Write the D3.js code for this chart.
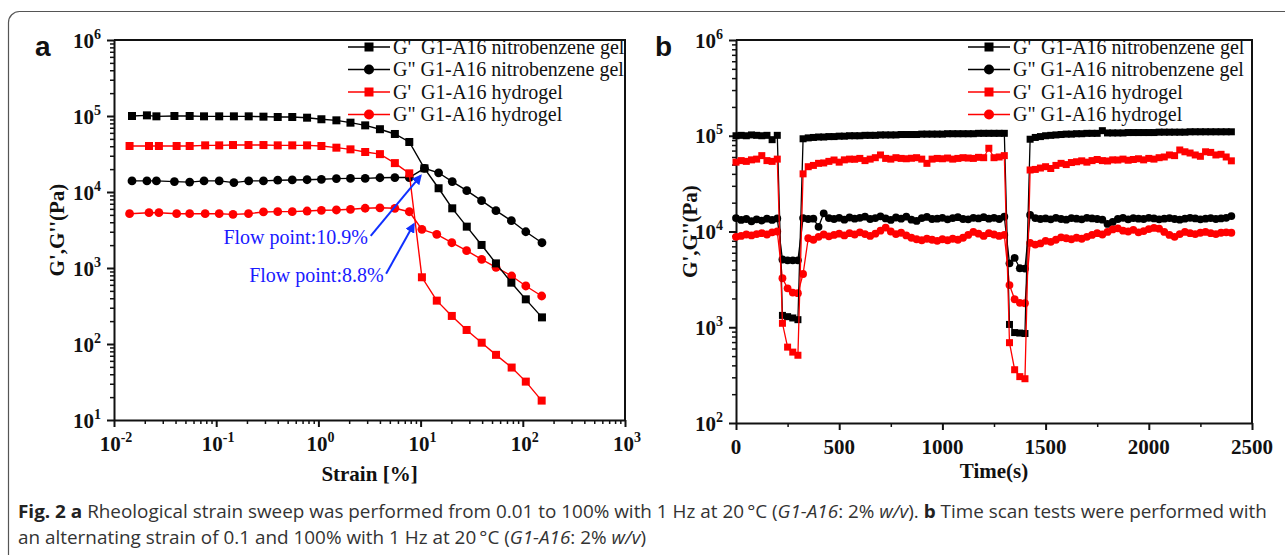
<!DOCTYPE html>
<html><head><meta charset="utf-8">
<script src="https://cdn.jsdelivr.net/npm/d3@7/dist/d3.min.js"></script>
<style>
body{margin:0;background:#fff;}
svg{display:block;}
</style></head><body>
<svg id="c" width="1285" height="555"></svg>
<script>
// ---------- Panel a: strain sweep ----------
const strainNitro = [0.015, 0.021, 0.026, 0.039, 0.055, 0.076, 0.107, 0.149, 0.208, 0.29, 0.40, 0.555, 0.775, 1.07, 1.5, 2.06, 2.87, 4.0, 5.6, 7.75, 10.9, 15.0, 20.4, 28.3, 39.5, 54.6, 77.3, 107, 154];
const gpNitroA  = [100000, 102000, 99000, 100000, 100000, 99000, 99000, 99000, 99000, 98000, 97000, 97000, 95000, 90600, 87700, 81700, 75300, 67000, 58000, 45500, 20500, 11200, 6100, 3500, 2010, 1150, 641, 387, 224];
const gppNitroA = [14000, 14000, 14000, 13700, 13500, 14000, 14000, 13300, 14000, 14000, 14300, 14400, 14500, 14700, 15000, 15100, 15100, 15400, 15500, 15500, 20500, 17900, 13700, 10400, 7690, 5680, 4190, 3000, 2150];
const strainHydro = [0.0142, 0.022, 0.0275, 0.041, 0.055, 0.078, 0.107, 0.146, 0.207, 0.29, 0.40, 0.555, 0.775, 1.07, 1.5, 2.06, 2.87, 4.0, 5.6, 7.75, 10.3, 14.4, 20.2, 28.2, 39.6, 54.7, 77.8, 107, 153];
const gpHydroA  = [40300, 40300, 40300, 40300, 40300, 41100, 41100, 41500, 41500, 41500, 41100, 41100, 41100, 40300, 38300, 36400, 33600, 31500, 24000, 17600, 755, 372, 234, 153, 104, 72, 49, 32, 18];
const gppHydroA = [5180, 5340, 5340, 5180, 5180, 5180, 5180, 5080, 5180, 5460, 5510, 5510, 5620, 5740, 5800, 5920, 6110, 6200, 6100, 5500, 3230, 2770, 2150, 1690, 1300, 1020, 785, 580, 428];

// ---------- Panel b: time scan ----------
const timeS = [0,25,50,75,100,125,150,175,200,225,250,275,300,325,350,375,400,425,450,475,500,525,550,575,600,625,650,675,700,725,750,775,800,825,850,875,900,925,950,975,1000,1025,1050,1075,1100,1125,1150,1175,1200,1225,1250,1275,1300,1325,1350,1375,1400,1425,1450,1475,1500,1525,1550,1575,1600,1625,1650,1675,1700,1725,1750,1775,1800,1825,1850,1875,1900,1925,1950,1975,2000,2025,2050,2075,2100,2125,2150,2175,2200,2225,2250,2275,2300,2325,2350,2375,2400];
const gpNitroB = [100000,101000,100000,102000,101000,100000,101000,91000,101000,
  1330,1290,1250,1200,
  93000,95000,96000,97000,97000,98000,98000,99000,99000,100000,100000,100000,101000,101000,101000,102000,102000,102000,102000,103000,103000,103000,103000,104000,104000,104000,104000,104000,105000,105000,105000,105000,105000,105000,106000,106000,106000,106000,106000,106000,
  1070,880,870,860,
  92000,96000,98000,100000,101000,102000,103000,104000,104000,105000,105000,106000,106000,106000,113000,107000,107000,107000,107000,108000,108000,108000,108000,108000,108000,109000,109000,109000,109000,109000,109000,110000,110000,110000,110000,110000,110000,110000,110000,110000];
const gppNitroB = [13800,13200,13500,12800,13400,13000,13600,13200,13700,
  5100,5000,5000,5000,
  13800,13500,13600,11200,15500,13800,13500,13900,13300,14000,13600,13900,14300,13500,13800,14400,13700,13200,14000,13600,14300,13300,12900,13800,14200,13500,13600,13900,13400,13800,14100,13500,13400,13900,13700,14100,13600,13900,13500,14300,
  4650,5300,4130,4100,
  14900,13800,13500,13700,13400,13900,13500,13300,13800,13600,13400,13900,13700,13500,13300,12000,12600,13500,13900,13400,13800,13600,13500,13900,13700,13400,13600,13800,13500,13300,13600,13900,13700,13400,13600,13800,13500,13700,13900,14500];
const gpHydroB = [53000,55000,54000,56000,57000,62000,55000,54000,57000,
  1100,620,550,510,
  40000,47500,49000,51500,52000,54000,55800,53000,56000,57000,56800,58000,55000,57000,59000,63000,58000,57000,59000,58000,57500,58200,59000,57000,51500,57000,58000,57500,58500,57000,58000,59000,58500,58000,59500,59000,74000,59000,60000,62000,
  690,360,305,290,
  43900,44500,46000,47500,45500,49000,51500,50000,52500,53500,54700,53000,55000,56500,55000,54500,56000,55800,57000,55500,56500,57500,56000,58000,57000,59000,60000,63000,62000,71000,68000,66000,63000,61000,68000,67000,63000,64000,60000,54700];
const gppHydroB = [8800,9000,9300,9100,9400,9600,9300,9800,10000,
  3250,2550,2300,2270,
  3600,8500,8200,8800,9300,8900,9200,9500,9100,9600,9300,9800,9400,9000,9500,10200,11000,10000,9400,9700,9100,8600,8300,8100,8400,8200,8000,8300,8100,8400,8200,8600,9200,9900,9500,9000,9600,9300,9000,9200,
  2760,1960,1800,1780,
  7600,7300,7500,8000,7800,8200,8700,8500,8300,8600,8400,8800,9200,9600,9300,9900,10500,10800,10200,10000,10400,9800,10100,10600,10900,10700,9900,9200,8800,9400,9900,9600,9400,9700,9900,9600,9400,9700,9800,9700];

// ---------- labels / ticks ----------
const legendLabels = ["G'\u00a0\u00a0G1-A16 nitrobenzene gel", "G\" G1-A16 nitrobenzene gel", "G'\u00a0\u00a0G1-A16 hydrogel", "G\" G1-A16 hydrogel"];
const legendColors = ["#000", "#000", "#f00", "#f00"];
const legendShapes = ["square", "circle", "square", "circle"];
const yTicksA = [1e1, 1e2, 1e3, 1e4, 1e5, 1e6];
const xTicksA = [1e-2, 1e-1, 1e0, 1e1, 1e2, 1e3];
const yTicksB = [1e2, 1e3, 1e4, 1e5, 1e6];
const xTicksB = [0, 500, 1000, 1500, 2000, 2500];
const xMinorB = [250, 750, 1250, 1750, 2250];
const flowLabels = ["Flow point:10.9%", "Flow point:8.8%"];
// annotation anchors in data space [strain, modulus]
const arrowFrom = [[3.25, 2640], [4.6, 841]];
const arrowTo = [[10.0, 16300], [8.57, 3760]];
const flowTextAt = [[3.05, 2070], [4.35, 645]];

const svg = d3.select("#c");
const SERIF = "'Liberation Serif','Times New Roman',serif";
const SANS = "'Liberation Sans',Arial,sans-serif";

// outer frame
svg.append("rect").attr("x", 8.5).attr("y", 11.5).attr("width", 1300).attr("height", 600)
  .attr("rx", 11).attr("fill", "none").attr("stroke", "#555").attr("stroke-width", 1.2);

const defs = svg.append("defs");
defs.append("marker").attr("id", "ah").attr("viewBox", "0 0 10 10").attr("refX", 8).attr("refY", 5)
  .attr("markerWidth", 5).attr("markerHeight", 5).attr("orient", "auto")
  .append("path").attr("d", "M0,0 L10,5 L0,10 z").attr("fill", "#1030ff");

function minorLog(lo, hi) {
  const out = [];
  for (let e = Math.round(Math.log10(lo)); e < Math.round(Math.log10(hi)); e++)
    for (let k = 2; k <= 9; k++) out.push(k * Math.pow(10, e));
  return out;
}

function powLabel(sel, v) {
  const e = Math.round(Math.log10(v));
  sel.append("tspan").text("10");
  sel.append("tspan").attr("font-size", 14).attr("dy", -9).text(String(e));
}

function drawAxes(g, x, y, opts) {
  const [x0, x1] = x.range();
  const [y0, y1] = y.range();
  g.append("g").attr("transform", `translate(0,${y0})`)
    .call(d3.axisBottom(x).tickValues(opts.xMinor).tickSize(4).tickFormat(() => ""))
    .call(a => { a.select(".domain").remove(); a.selectAll("line").attr("stroke-width", 1.5).attr("stroke", "#111"); });
  g.append("g").attr("transform", `translate(${x0},0)`)
    .call(d3.axisLeft(y).tickValues(opts.yMinor).tickSize(4).tickFormat(() => ""))
    .call(a => { a.select(".domain").remove(); a.selectAll("line").attr("stroke-width", 1.5).attr("stroke", "#111"); });
  g.append("g").attr("transform", `translate(0,${y0})`)
    .call(d3.axisBottom(x).tickValues(opts.xMajor).tickSize(7).tickSizeOuter(0).tickFormat(() => ""))
    .call(a => { a.select(".domain").attr("stroke-width", 2).attr("stroke", "#111"); a.selectAll("line").attr("stroke-width", 2).attr("stroke", "#111"); });
  g.append("g").attr("transform", `translate(${x0},0)`)
    .call(d3.axisLeft(y).tickValues(opts.yMajor).tickSize(7).tickSizeOuter(0).tickFormat(() => ""))
    .call(a => { a.select(".domain").attr("stroke-width", 2).attr("stroke", "#111"); a.selectAll("line").attr("stroke-width", 2).attr("stroke", "#111"); });
  g.append("line").attr("x1", x0).attr("x2", x1).attr("y1", y1).attr("y2", y1).attr("stroke", "#111").attr("stroke-width", 2);
  g.append("line").attr("x1", x1).attr("x2", x1).attr("y1", y1 - 1).attr("y2", y0 + 1).attr("stroke", "#111").attr("stroke-width", 2);
  opts.yMajor.forEach(v => {
    const t = g.append("text").attr("x", x0 - 13).attr("y", y(v) + 7.5)
      .attr("text-anchor", "end").attr("font-family", SERIF).attr("font-weight", "bold").attr("font-size", 21).attr("fill", "#111");
    powLabel(t, v);
  });
  opts.xMajor.forEach(v => {
    const t = g.append("text").attr("x", x(v) + (opts.xLog ? 2 : 0)).attr("y", y0 + 31)
      .attr("text-anchor", "middle").attr("font-family", SERIF).attr("font-weight", "bold").attr("font-size", 21).attr("fill", "#111");
    if (opts.xLog) powLabel(t, v); else t.text(v);
  });
  g.append("text").attr("x", (x0 + x1) / 2).attr("y", opts.xTitleY)
    .attr("text-anchor", "middle").attr("font-family", SERIF).attr("font-weight", "bold").attr("font-size", 21).attr("fill", "#111")
    .text(opts.xTitle);
  g.append("text").attr("transform", `translate(${opts.yTitleX},${(y0 + y1) / 2}) rotate(-90)`)
    .attr("text-anchor", "middle").attr("font-family", SERIF).attr("font-weight", "bold").attr("font-size", 21).attr("fill", "#111")
    .text("G',G''(Pa)");
}

function drawSeries(g, x, y, xs, ys, color, shape, sz, lw) {
  const pts = xs.map((d, i) => [x(d), y(ys[i])]);
  g.append("path").attr("d", d3.line()(pts)).attr("fill", "none").attr("stroke", color).attr("stroke-width", lw);
  if (shape === "square") {
    g.selectAll(null).data(pts).enter().append("rect")
      .attr("x", d => d[0] - sz / 2).attr("y", d => d[1] - sz / 2).attr("width", sz).attr("height", sz).attr("fill", color);
  } else {
    g.selectAll(null).data(pts).enter().append("circle")
      .attr("cx", d => d[0]).attr("cy", d => d[1]).attr("r", sz / 2 + 0.4).attr("fill", color);
  }
}

function drawLegend(g, lx, ly) {
  legendLabels.forEach((lab, i) => {
    const yy = ly + i * 22.5;
    g.append("line").attr("x1", lx).attr("x2", lx + 42).attr("y1", yy).attr("y2", yy)
      .attr("stroke", legendColors[i]).attr("stroke-width", 1.6);
    if (legendShapes[i] === "square")
      g.append("rect").attr("x", lx + 21 - 4.5).attr("y", yy - 4.5).attr("width", 9).attr("height", 9).attr("fill", legendColors[i]);
    else
      g.append("circle").attr("cx", lx + 21).attr("cy", yy).attr("r", 5).attr("fill", legendColors[i]);
    g.append("text").attr("x", lx + 45).attr("y", yy + 6.5).attr("font-family", SERIF).attr("font-size", 20)
      .attr("fill", "#111").text(lab);
  });
}

// ===== Panel a =====
const ga = svg.append("g");
const xa = d3.scaleLog().domain([1e-2, 1e3]).range([114, 625]);
const ya = d3.scaleLog().domain([1e1, 1e6]).range([420, 40]);
drawAxes(ga, xa, ya, { xMajor: xTicksA, yMajor: yTicksA, xMinor: minorLog(1e-2, 1e3), yMinor: minorLog(1e1, 1e6), xLog: true, xTitle: "Strain [%]", xTitleY: 481, yTitleX: 64 });
const ca = ga.append("g");
drawSeries(ca, xa, ya, strainNitro, gppNitroA, "#000", "circle", 8, 1.4);
drawSeries(ca, xa, ya, strainHydro, gppHydroA, "#f00", "circle", 8, 1.4);
drawSeries(ca, xa, ya, strainNitro, gpNitroA, "#000", "square", 8, 1.4);
drawSeries(ca, xa, ya, strainHydro, gpHydroA, "#f00", "square", 8, 1.4);
arrowFrom.forEach((f, i) => {
  ga.append("line").attr("x1", xa(f[0])).attr("y1", ya(f[1])).attr("x2", xa(arrowTo[i][0])).attr("y2", ya(arrowTo[i][1]))
    .attr("stroke", "#1030ff").attr("stroke-width", 2).attr("marker-end", "url(#ah)");
  ga.append("text").attr("x", xa(flowTextAt[i][0])).attr("y", ya(flowTextAt[i][1])).attr("text-anchor", "end")
    .attr("font-family", SERIF).attr("font-size", 20).attr("fill", "#1a1aff").text(flowLabels[i]);
});
drawLegend(ga, 348, 47);
ga.append("text").attr("x", 35).attr("y", 56).attr("font-family", SANS).attr("font-weight", "bold").attr("font-size", 28).attr("fill", "#111").text("a");

// ===== Panel b =====
const gb = svg.append("g");
const xb = d3.scaleLinear().domain([0, 2500]).range([736, 1252]);
const yb = d3.scaleLog().domain([1e2, 1e6]).range([423, 40]);
drawAxes(gb, xb, yb, { xMajor: xTicksB, yMajor: yTicksB, xMinor: xMinorB, yMinor: minorLog(1e2, 1e6), xLog: false, xTitle: "Time(s)", xTitleY: 478, yTitleX: 697 });
const cb = gb.append("g");
drawSeries(cb, xb, yb, timeS, gppNitroB, "#000", "circle", 7, 1.3);
drawSeries(cb, xb, yb, timeS, gppHydroB, "#f00", "circle", 7, 1.3);
drawSeries(cb, xb, yb, timeS, gpNitroB, "#000", "square", 7, 1.3);
drawSeries(cb, xb, yb, timeS, gpHydroB, "#f00", "square", 7, 1.3);
drawLegend(gb, 968, 47);
gb.append("text").attr("x", 655).attr("y", 56).attr("font-family", SANS).attr("font-weight", "bold").attr("font-size", 28).attr("fill", "#111").text("b");

// ===== Caption =====
const CAP = "'Open Sans','Noto Sans',sans-serif";
const cap1 = [["Fig. 2 a", "b", ""], [" Rheological strain sweep was performed from 0.01 to 100% with 1 Hz at 20\u2009°C (", "", ""], ["G1-A16", "", "i"], [": 2% ", "", ""], ["w/v", "", "i"], ["). ", "", ""], ["b", "b", ""], [" Time scan tests were performed with", "", ""]];
const cap2 = [["an alternating strain of 0.1 and 100% with 1 Hz at 20\u2009°C (", "", ""], ["G1-A16", "", "i"], [": 2% ", "", ""], ["w/v", "", "i"], [")", "", ""]];
function capLine(parts, yy) {
  const t = svg.append("text").attr("x", 0).attr("y", 0).attr("font-family", CAP).attr("font-size", 18.5).attr("fill", "#333");
  parts.forEach(p => {
    const s = t.append("tspan").text(p[0]);
    if (p[1] === "b") s.attr("font-weight", "bold").attr("fill", "#222");
    if (p[2] === "i") s.attr("font-style", "italic");
  });
  return { t, yy };
}
const l1 = capLine(cap1, 518), l2 = capLine(cap2, 544);
const w1 = l1.t.node().getComputedTextLength();
const sx = 1250 / w1;
[l1, l2].forEach(l => l.t.attr("transform", `translate(18,${l.yy}) scale(${sx},1)`));
</script>
</body></html>
